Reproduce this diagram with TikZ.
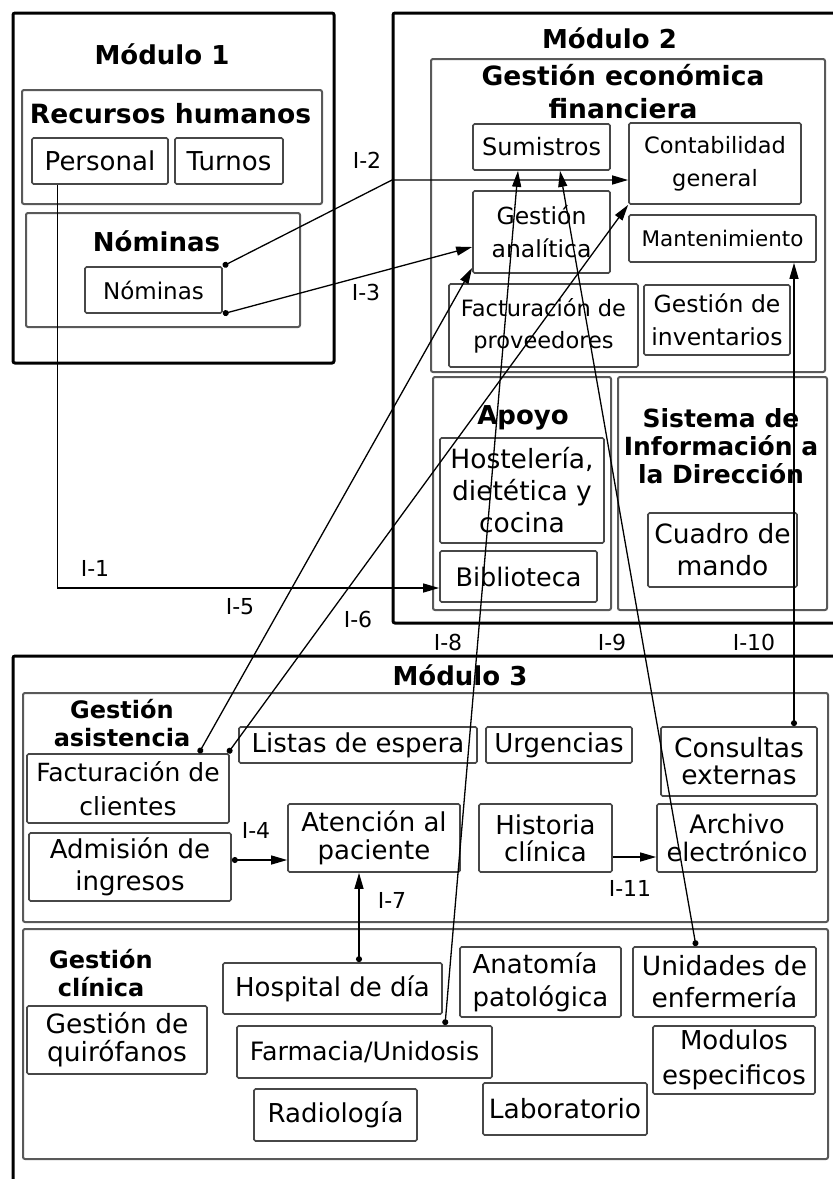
\documentclass[tikz,border=0pt]{standalone}
\usepackage{fontspec}
\setmainfont{DejaVu Sans}
\usetikzlibrary{arrows.meta,calc}
\newcommand\fsz[2]{\fontsize{#1}{#2}\selectfont}
\newcommand\bx[7]{\node[#1, minimum width={(#5)-(#3)}, minimum height={(#6)-(#4)}] (#2) at ({((#3)+(#5))/2},{((#4)+(#6))/2}) {#7};}
\tikzset{
  module/.style={draw=black, line width=3pt, rounded corners=2pt, inner sep=0pt},
  group/.style={draw=black!65, line width=2pt, rounded corners=2pt, inner sep=0pt},
  item/.style={draw=black!72, line width=1.7pt, rounded corners=1.5pt, inner sep=0pt, align=center, text=black},
  ttl/.style={inner sep=0pt, align=center, text=black},
  lbl/.style={inner sep=0pt, anchor=base, font=\fsz{22}{26}},
  conn/.style={draw=black, line width=1.3pt},
  arr/.style={-{Triangle[length=16pt,width=9pt]}},
  darr/.style={{Circle[length=6pt]}-{Triangle[length=16pt,width=9pt]}},
}
\begin{document}
\begin{tikzpicture}[x=1pt,y=-1pt]
\useasboundingbox (0,0) rectangle (833,1179);
\fill[white] (0,0) rectangle (833,1179);
\clip (0,0) rectangle (833,1179);
% modules
\bx{module}{m1}{13}{13}{334}{363}{}
\bx{module}{m2}{393}{13}{850}{623}{}
\bx{module}{m3}{13}{656}{850}{1195}{}
% groups
\bx{group}{grh}{22}{90}{322}{204}{}
\bx{group}{gnom}{26}{213}{300}{327}{}
\bx{group}{ggef}{431}{59}{825}{372}{}
\bx{group}{gapo}{433}{377}{611}{610}{}
\bx{group}{gsis}{618}{377}{827}{610}{}
\bx{group}{gasi}{23}{693}{828}{922}{}
\bx{group}{gcli}{23}{929}{828}{1159}{}
% titles
\node[ttl, anchor=base, font=\bfseries\fsz{26}{30}] (t1) at (162,64) {Módulo 1};
\node[ttl, anchor=base, font=\bfseries\fsz{26.5}{30}] (trh) at (170.5,123) {Recursos humanos};
\node[ttl, anchor=base, font=\bfseries\fsz{26}{30}] (tnom) at (156.5,251) {Nóminas};
\node[ttl, anchor=base, font=\bfseries\fsz{26}{30}] (t2) at (609.5,48) {Módulo 2};
\node[ttl, font=\bfseries\fsz{26.5}{33}] (tgef) at (623,91.5) {Gestión económica\\financiera};
\node[ttl, anchor=base, font=\bfseries\fsz{26}{30}] (tapo) at (523,424) {Apoyo};
\node[ttl, font=\bfseries\fsz{25}{28}] (tsis) at (721,446.5) {Sistema de\\Información a\\la Dirección};
\node[ttl, anchor=base, font=\bfseries\fsz{26}{30}] (t3) at (460,685) {Módulo 3};
\node[ttl, font=\bfseries\fsz{24}{28}] (tasi) at (122,723.5) {Gestión\\asistencia};
\node[ttl, font=\bfseries\fsz{24}{28}] (tcli) at (101,973.5) {Gestión\\clínica};
% items
\bx{item,font=\fsz{26}{30}}{pers}{32}{138}{168}{184}{Personal}
\bx{item,font=\fsz{26}{30}}{turn}{175}{138}{283}{184}{Turnos}
\bx{item,font=\fsz{23}{28}}{nom}{85}{267}{222}{313}{Nóminas}
\bx{item,font=\fsz{24}{30}}{sum}{473}{124}{610}{170}{Sumistros}
\bx{item,font=\fsz{22.5}{33}}{cont}{629}{123}{801}{204}{Contabilidad\\general}
\bx{item,font=\fsz{23.5}{33}}{gan}{473}{191}{610}{273}{Gestión\\analítica}
\bx{item,font=\fsz{21.5}{26}}{mant}{629}{215}{816}{262}{Mantenimiento}
\bx{item,font=\fsz{22.5}{32}}{fprov}{449}{284}{638}{367}{Facturación de\\proveedores}
\bx{item,font=\fsz{23.5}{33}}{ginv}{644}{285}{790}{355}{Gestión de\\inventarios}
\bx{item,font=\fsz{26.5}{32}}{host}{440}{438}{604}{543}{Hostelería,\\dietética y\\cocina}
\bx{item,font=\fsz{25.5}{30}}{bib}{440}{551}{597}{602}{Biblioteca}
\bx{item,font=\fsz{26.5}{32}}{cuad}{648}{513}{797}{587}{Cuadro de\\mando}
\bx{item,font=\fsz{25}{34}}{fact}{27}{754}{229}{823}{Facturación de\\clientes}
\bx{item,font=\fsz{26}{30}}{list}{239}{727}{477}{763}{Listas de espera}
\bx{item,font=\fsz{26}{30}}{urg}{486}{727}{632}{763}{Urgencias}
\bx{item,font=\fsz{26.5}{27}}{cons}{661}{727}{817}{796}{Consultas\\externas}
\bx{item,font=\fsz{26}{32}}{adm}{29}{833}{231}{901}{Admisión de\\ingresos}
\bx{item,font=\fsz{26}{28}}{aten}{288}{804}{460}{872}{Atención al\\paciente}
\bx{item,font=\fsz{26}{27}}{hist}{479}{804}{612}{872}{Historia\\clínica}
\bx{item,font=\fsz{25.5}{28}}{arch}{657}{804}{817}{872}{Archivo\\electrónico}
\bx{item,font=\fsz{26}{30}}{hosp}{223}{963}{442}{1014}{Hospital de día}
\bx{item,font=\fsz{26.5}{28}}{quir}{27}{1006}{207}{1074}{Gestión de\\quirófanos}
\bx{item,font=\fsz{25.3}{30}}{farm}{237}{1026}{492}{1078}{Farmacia/Unidosis}
\bx{item,font=\fsz{26}{30}}{radi}{254}{1089}{417}{1141}{Radiología}
\bx{item,font=\fsz{26}{33},align=left}{anat}{460}{947}{621}{1017}{Anatomía\\patológica}
\bx{item,font=\fsz{26.5}{32}}{unid}{633}{947}{816}{1017}{Unidades de\\enfermería}
\bx{item,font=\fsz{26}{35}}{modu}{653}{1026}{815}{1094}{Modulos\\especificos}
\bx{item,font=\fsz{26.5}{30}}{labo}{483}{1083}{647}{1135}{Laboratorio}
% connectors
\coordinate (c1) at ([xshift=26pt]pers.south west);
\draw[conn,arr] (c1) |- ([yshift=-11.5pt]bib.west);
\coordinate (b2) at (392,180);
\draw[conn,darr] (nom.north east) -- (b2) -- (b2 -| cont.west);
\draw[conn,darr] (nom.south east) -- ([yshift=-15pt]gan.west);
\coordinate (c4) at ([yshift=7pt]adm.east);
\draw[conn,darr] (c4) -- (c4 -| aten.west);
\draw[conn,darr] ([xshift=-31pt]fact.north east) -- ([yshift=6pt]gan.south west);
\draw[conn,darr] ([xshift=-2pt]fact.north east) -- (cont.south west);
\coordinate (c7) at ([xshift=26.5pt]hosp.north);
\draw[conn,darr] (c7) -- (c7 |- aten.south);
\draw[conn,darr] ([xshift=80.5pt]farm.north) -- ([xshift=-23.5pt]sum.south);
\draw[conn,darr] ([xshift=-28.5pt]unid.north) -- ([xshift=18.5pt]sum.south);
\coordinate (c10) at ([xshift=55pt]cons.north);
\draw[conn,darr] (c10) -- (c10 |- mant.south);
\coordinate (c11) at ([yshift=-19pt]hist.east);
\draw[conn,arr] (c11) -- (c11 -| arch.west);
% labels
\node[lbl] (l1) at (95,576) {I-1};
\node[lbl] (l2) at (367,168) {I-2};
\node[lbl] (l3) at (366,300) {I-3};
\node[lbl] (l4) at (256,838) {I-4};
\node[lbl] (l5) at (240,614) {I-5};
\node[lbl] (l6) at (358,627) {I-6};
\node[lbl] (l7) at (392,908) {I-7};
\node[lbl] (l8) at (448,650) {I-8};
\node[lbl] (l9) at (612,650) {I-9};
\node[lbl] (l10) at (754,650) {I-10};
\node[lbl] (l11) at (630,896) {I-11};
\end{tikzpicture}
\end{document}
